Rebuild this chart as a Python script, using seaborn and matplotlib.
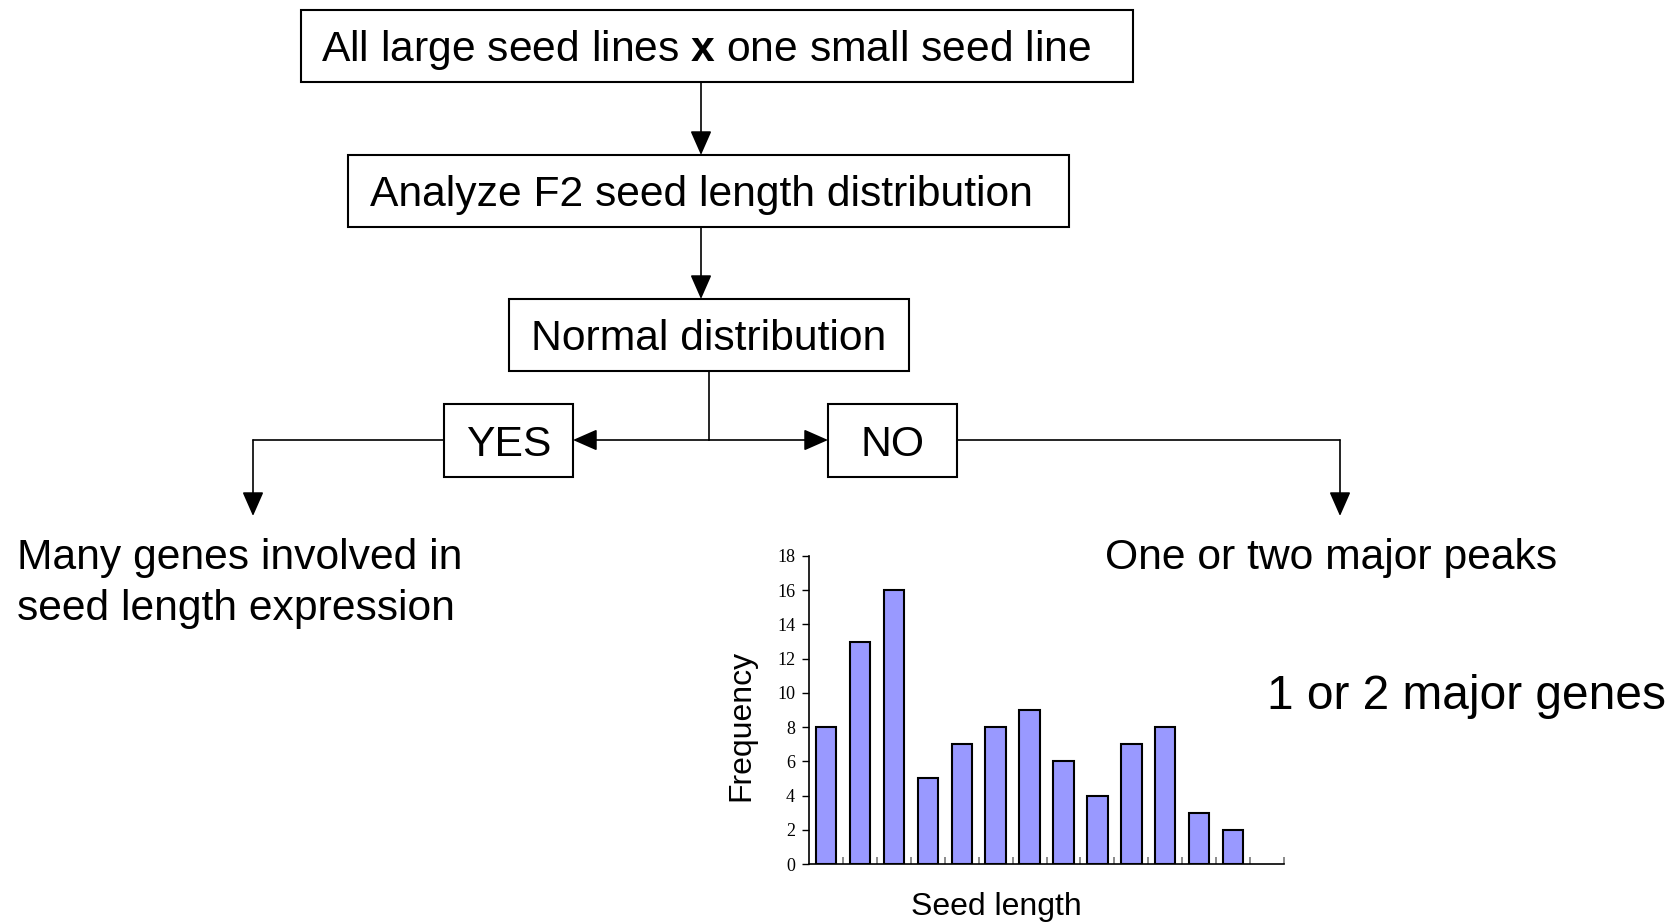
import matplotlib
matplotlib.use("Agg")
import matplotlib.pyplot as plt
from matplotlib.patches import Rectangle
import pandas as pd
import seaborn as sns

# DATA
seed_bins = [str(i) for i in range(1, 14)]
frequency = [8, 13, 16, 5, 7, 8, 9, 6, 4, 7, 8, 3, 2]
y_ticks = list(range(0, 20, 2))

step_texts = [
    r"All large seed lines $\mathbf{x}$ one small seed line",
    "Analyze F2 seed length distribution",
    "Normal distribution",
]
yes_text = "YES"
no_text = "NO"
yes_result = ["Many genes involved in", "seed length expression"]
no_result = "One or two major peaks"
no_conclusion = "1 or 2 major genes"

# STYLE
sns.set_style("ticks")
plt.rcParams["font.family"] = ["Liberation Sans", "DejaVu Sans"]
plt.rcParams["mathtext.fontset"] = "custom"
plt.rcParams["mathtext.rm"] = "Liberation Sans"
plt.rcParams["mathtext.bf"] = "Liberation Sans:bold"
plt.rcParams["text.color"] = "black"
plt.rcParams["axes.labelcolor"] = "black"
plt.rcParams["xtick.color"] = "black"
plt.rcParams["ytick.color"] = "black"

W, H = 1676, 922
fig = plt.figure(figsize=(W / 100, H / 100), dpi=100)
fig.patch.set_facecolor("white")

# background axes in pixel coords for the flowchart
bg = fig.add_axes([0, 0, 1, 1])
bg.set_xlim(0, W)
bg.set_ylim(H, 0)
bg.axis("off")

FS = 30.7
LW = 1.2
DY = 4  # small downward nudge of text


def box(x0, y0, x1, y1, text, tx=None, ha="center"):
    bg.add_patch(Rectangle((x0, y0), x1 - x0, y1 - y0, fill=False,
                           edgecolor="black", lw=1.5))
    if tx is None:
        tx = (x0 + x1) / 2
    bg.text(tx, (y0 + y1) / 2 + DY, text, ha=ha, va="center", fontsize=FS)


def arrow(start, tip):
    bg.annotate("", xy=tip, xytext=start,
                arrowprops=dict(arrowstyle="-|>,head_length=0.75,head_width=0.33",
                                color="black", lw=LW, mutation_scale=20,
                                shrinkA=0, shrinkB=0))


# boxes
box(301, 10, 1133, 82, step_texts[0], tx=321, ha="left")
box(348, 155, 1069, 227, step_texts[1], tx=370, ha="left")
box(509, 299, 909, 371, step_texts[2])
box(444, 404, 573, 477, yes_text)
box(828, 404, 957, 477, no_text)

# connectors
arrow((701, 82), (701, 155))
arrow((701, 227), (701, 299))
bg.plot([709, 709], [371, 440], color="black", lw=LW)
arrow((709, 440), (573, 440))
arrow((709, 440), (828, 440))
bg.plot([444, 253], [440, 440], color="black", lw=LW)
arrow((253, 440), (253, 516))
bg.plot([957, 1340], [440, 440], color="black", lw=LW)
arrow((1340, 440), (1340, 516))

# result texts
bg.text(17, 554 + DY, yes_result[0], ha="left", va="center", fontsize=FS)
bg.text(17, 605 + DY, yes_result[1], ha="left", va="center", fontsize=FS)
bg.text(1105, 554 + DY, no_result, ha="left", va="center", fontsize=FS)
bg.text(1267, 692 + DY, no_conclusion, ha="left", va="center", fontsize=34.5)

# bar chart inset
ax_l, ax_r, ax_t, ax_b = 809, 1284, 556, 864
ax = fig.add_axes([ax_l / W, 1 - ax_b / H, (ax_r - ax_l) / W, (ax_b - ax_t) / H])
df = pd.DataFrame({"bin": seed_bins, "freq": frequency})
sns.barplot(data=df, x="bin", y="freq", color="#9999FF", saturation=1,
            edgecolor="black", linewidth=1.5, width=0.6, ax=ax)
ax.set_xlim(-0.5, len(seed_bins) + 0.5)
ax.set_ylim(0, 18)
ax.set_yticks(y_ticks)
ax.set_yticklabels([str(t) for t in y_ticks], family="Liberation Serif", fontsize=13)
ax.set_xticks([i + 0.5 for i in range(len(seed_bins) + 1)])
ax.set_xticklabels([])
ax.tick_params(axis="x", direction="in", length=5, width=1.2, color="#777777")
ax.tick_params(axis="y", direction="out", length=5, width=1, color="black", pad=5)
sns.despine(ax=ax)
for s in ["left", "bottom"]:
    ax.spines[s].set_linewidth(1.2)
    ax.spines[s].set_color("black")
ax.set_ylabel("Frequency", fontsize=23, va="center")
ax.yaxis.set_label_coords(-0.143, 0.45)
ax.set_xlabel("Seed length", fontsize=23, va="center")
ax.xaxis.set_label_coords(0.394, -0.14)
ax.patch.set_alpha(0)

fig.savefig("out.png", dpi=100, facecolor="white")
